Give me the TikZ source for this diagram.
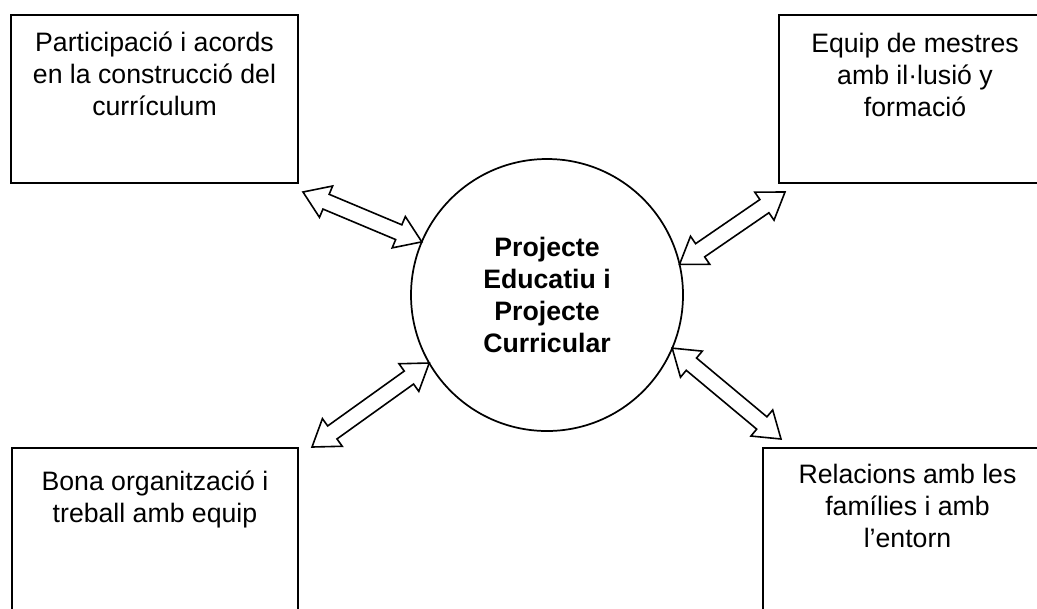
\documentclass[tikz,border=0pt]{standalone}
\usepackage{fontspec}
\setmainfont{Liberation Sans}
\usetikzlibrary{calc}
\usetikzlibrary{positioning}
\tikzset{blockarrow/.style={draw,line width=1.2pt,line join=miter,fill=white}}

\def\headlen{18.75pt}
\def\headhw{12.75pt}
\def\shafthw{6pt}
% hollow arrow with a head at both ends, from #1 to #2
\newcommand{\dblarrow}[2]{%
  \draw[blockarrow] (#1)
    -- ($(#1)!\headlen!(#2)!\headhw!90:(#2)$)
    -- ($(#1)!\headlen!(#2)!\shafthw!90:(#2)$)
    -- ($(#2)!\headlen!(#1)!\shafthw!-90:(#1)$)
    -- ($(#2)!\headlen!(#1)!\headhw!-90:(#1)$)
    -- (#2)
    -- ($(#2)!\headlen!(#1)!\headhw!90:(#1)$)
    -- ($(#2)!\headlen!(#1)!\shafthw!90:(#1)$)
    -- ($(#1)!\headlen!(#2)!\shafthw!-90:(#2)$)
    -- ($(#1)!\headlen!(#2)!\headhw!-90:(#2)$)
    -- cycle;}

\begin{document}
\begin{tikzpicture}[x=0.75pt,y=-0.75pt]
  \tikzstyle{abox}=[draw,line width=1.3pt,inner sep=0pt,outer sep=0pt,anchor=north west]
  \tikzstyle{boxtext}=[align=center,inner sep=0pt,font=\fontsize{20pt}{24pt}\selectfont]
  \tikzstyle{acircle}=[draw,circle,line width=1.3pt,minimum size=204pt,inner sep=0pt,outer sep=0pt,
    align=center,font=\fontsize{20pt}{24pt}\selectfont\bfseries]

  \useasboundingbox (0,0) rectangle (1037,608);

  \node [acircle] (pe) at (547,295) {Projecte\\Educatiu i\\Projecte\\Curricular};

  \node [abox,minimum width=215.25pt,minimum height=126pt] (tlbox) at (11,15) {};
  \node [abox,minimum width=204pt,minimum height=126pt] (trbox) at (779,15) {};
  \node [abox,minimum width=214.5pt,minimum height=135pt] (blbox) at (12,448) {};
  \node [abox,minimum width=216.75pt,minimum height=135pt] (brbox) at (763,448) {};

  \node [boxtext,below=12.5pt of tlbox.north] (tltext) {Participació i acords\\en la construcció del\\currículum};
  \node [boxtext,below=13.5pt of trbox.north] (trtext) {Equip de mestres\\amb il·lusió y\\formació};
  \node [boxtext,below=17pt of blbox.north] (bltext) {Bona organització i\\treball amb equip};
  \node [boxtext,below=12pt of brbox.north] (brtext) {Relacions amb les\\famílies i amb\\l’entorn};

  \coordinate (tlend) at ($(tlbox.south east)+(5,9)$);
  \coordinate (trend) at ($(trbox.south west)+(6,9)$);
  \coordinate (blend) at ($(blbox.north east)+(14,-1)$);
  \coordinate (brend) at ($(brbox.north west)+(18,-9)$);

  \dblarrow{tlend}{pe.157}
  \dblarrow{pe.13}{trend}
  \dblarrow{blend}{pe.210}
  \dblarrow{pe.-23}{brend}
\end{tikzpicture}
\end{document}
